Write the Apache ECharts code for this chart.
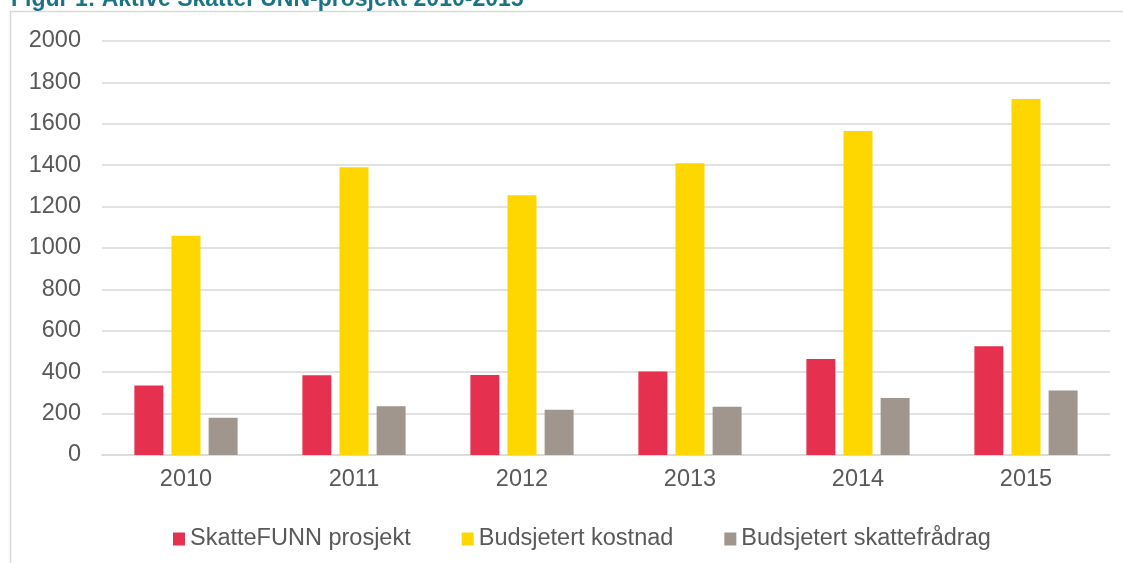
<!DOCTYPE html>
<html lang="no">

<head>
    <meta charset="UTF-8">
    <title>Figur 1: Aktive SkatteFUNN-prosjekt 2010-2015</title>
    <script src="https://cdn.jsdelivr.net/npm/echarts@6/dist/echarts.min.js"></script>
    <style>
        html, body { margin: 0; padding: 0; background: #fff; }
    </style>
</head>

<body>
    <div id="main" style="width: 1123px; height: 563px;"></div>

    <script type="text/javascript">
        // Data
        const years = ['2010', '2011', '2012', '2013', '2014', '2015'];
        const prosjekt = [336, 385, 386, 403, 464, 525];
        const kostnad = [1059, 1390, 1255, 1410, 1565, 1720];
        const fradrag = [180, 236, 219, 233, 275, 311];
        const seriesNames = ['SkatteFUNN prosjekt', 'Budsjetert kostnad', 'Budsjetert skattefrådrag'];
        const colors = ['#E63050', '#FFD700', '#A0968D'];

        const font = 'Liberation Sans, Arial, sans-serif';
        const labelColor = '#595959';
        const gridColor = '#D9D9D9';

        let myChart = echarts.init(document.getElementById('main'));

        let options = {
            animation: false,
            color: colors,
            textStyle: { fontFamily: font },
            graphic: [
                {
                    // frame round the chart, open on the right
                    type: 'rect',
                    silent: true,
                    shape: { x: 10.5, y: 11.5, width: 1200, height: 600 },
                    style: { fill: 'none', stroke: gridColor, lineWidth: 1.5 }
                },
                {
                    // figure caption, clipped at the top edge
                    type: 'text',
                    silent: true,
                    style: {
                        x: 11,
                        y: 0,
                        text: 'Figur 1: Aktive SkatteFUNN-prosjekt 2010-2015',
                        font: 'bold 23px Liberation Sans, Arial, sans-serif',
                        fill: '#1B7486',
                        verticalAlign: 'middle'
                    }
                }
            ],
            legend: {
                top: 522,
                left: 168,
                itemWidth: 12,
                itemHeight: 13,
                itemGap: 51,
                icon: 'rect',
                textStyle: { fontSize: 23.5, color: labelColor, fontFamily: font },
                data: seriesNames
            },
            grid: {
                left: 102,
                right: 13,
                top: 41,
                bottom: 108,
                containLabel: false
            },
            xAxis: {
                type: 'category',
                data: years,
                axisLine: { show: true, lineStyle: { color: gridColor, width: 1.5 } },
                axisTick: { show: false },
                axisLabel: { fontSize: 23.5, color: labelColor, margin: 13, fontFamily: font }
            },
            yAxis: {
                type: 'value',
                min: 0,
                max: 2000,
                interval: 200,
                axisLine: { show: false },
                axisTick: { show: false },
                splitLine: { lineStyle: { color: gridColor, width: 1.5 } },
                axisLabel: {
                    fontSize: 23.5,
                    color: labelColor,
                    margin: 21,
                    fontFamily: font,
                    formatter: (v) => String(v)
                }
            },
            series: [
                { name: seriesNames[0], type: 'bar', data: prosjekt, barWidth: 29, barGap: '28%' },
                { name: seriesNames[1], type: 'bar', data: kostnad, barWidth: 29, barGap: '28%' },
                { name: seriesNames[2], type: 'bar', data: fradrag, barWidth: 29, barGap: '28%' }
            ]
        };

        myChart.setOption(options);

        window.addEventListener('resize', () => {
            myChart.resize();
        });
    </script>
</body>

</html>
